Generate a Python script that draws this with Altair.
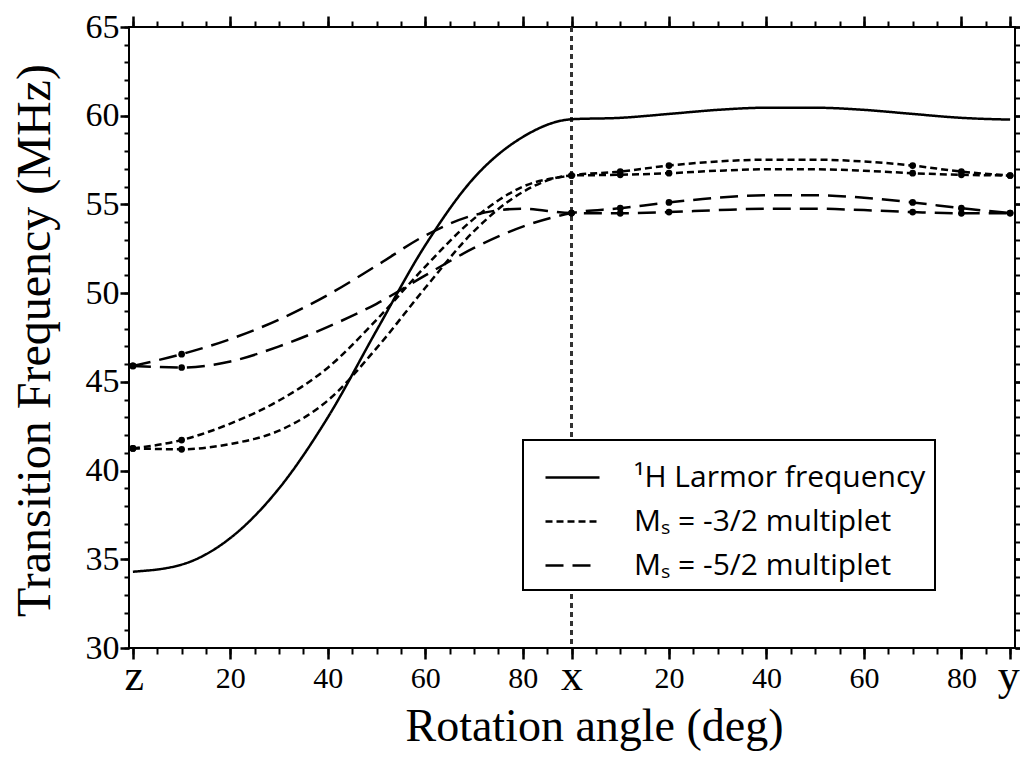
import altair as alt
import pandas as pd

# ---- data ----
angles = [0, 10, 20, 30, 40, 50, 60, 70, 80, 90, 100, 110, 120, 130, 140, 150, 160, 170, 180]

larmor = [34.3, 34.7, 36.2, 39.0, 43.0, 47.9, 52.7, 56.5, 58.8, 59.8,
          59.88, 60.1, 60.33, 60.45, 60.45, 60.33, 60.1, 59.88, 59.78]

ms32_a = [41.25, 41.72, 42.65, 43.95, 45.8, 48.5, 51.5, 54.2, 56.0, 56.63,
          56.85, 57.19, 57.42, 57.52, 57.52, 57.42, 57.19, 56.85, 56.63]
ms32_b = [41.25, 41.2, 41.5, 42.25, 43.95, 46.9, 50.3, 53.5, 55.7, 56.63,
          56.67, 56.76, 56.9, 56.98, 56.98, 56.9, 56.76, 56.67, 56.63]

ms52_a = [45.9, 46.56, 47.41, 48.51, 49.9, 51.55, 53.25, 54.4, 54.76, 54.51,
          54.5, 54.57, 54.68, 54.76, 54.76, 54.68, 54.57, 54.5, 54.51]
ms52_b = [45.9, 45.81, 46.15, 47.0, 48.1, 49.4, 51.0, 52.55, 53.75, 54.51,
          54.79, 55.11, 55.38, 55.52, 55.52, 55.38, 55.11, 54.79, 54.51]

marker_angles = [0, 10, 90, 100, 110, 160, 170, 180]

groups = ["\u00b9H Larmor frequency", "M\u209b = -3/2 multiplet", "M\u209b = -5/2 multiplet"]

curves = [
    ("larmor", groups[0], larmor),
    ("m32a", groups[1], ms32_a),
    ("m32b", groups[1], ms32_b),
    ("m52a", groups[2], ms52_a),
    ("m52b", groups[2], ms52_b),
]

major_x = [0, 20, 40, 60, 80, 90, 110, 130, 150, 170, 180]
minor_x = list(range(0, 181, 5))
axis_letters = [0, 90, 180]
major_y = list(range(30, 66, 5))
minor_y = list(range(30, 66, 1))

rows = []
for cid, grp, vals in curves:
    for a, v in zip(angles, vals):
        rows.append({"angle": a, "freq": v, "curve": cid, "group": grp})
df = pd.DataFrame(rows)
markers = df[(df["curve"] != "larmor") & (df["angle"].isin(marker_angles))]

xscale = alt.Scale(domain=[-0.8, 181], nice=False, zero=False)
yscale = alt.Scale(domain=[30, 65], nice=False, zero=False)

FONT = "Liberation Serif"

# ---- axes ----
ax_bottom_major = alt.Axis(
    orient="bottom", values=major_x, tickSize=11, tickWidth=2.5,
    labelExpr="(datum.value==0||datum.value==90||datum.value==180) ? '' : (datum.value>90 ? datum.value-90 : datum.value)",
    labelFontSize=30, labelPadding=4, labelOverlap=False, labelFlush=False,
    title="Rotation angle (deg)", titleFontSize=46, titleX=465, titleY=92,
    titleBaseline="alphabetic", titleAlign="center",
)
ax_bottom_minor = alt.Axis(orient="bottom", values=minor_x, tickSize=6, tickWidth=2,
                           labels=False, title=None)
ax_bottom_letters = alt.Axis(
    orient="bottom", values=axis_letters, ticks=False, labelFontSize=44,
    labelExpr="datum.value==0 ? 'z' : (datum.value==90 ? 'x' : 'y')",
    labelPadding=6, labelOverlap=False, labelFlush=12, labelFlushOffset=9, title=None,
)
ax_top_major = alt.Axis(orient="top", values=major_x, tickSize=11, tickWidth=2.5,
                        labels=False, title=None)
ax_top_minor = alt.Axis(orient="top", values=minor_x, tickSize=6, tickWidth=2,
                        labels=False, title=None)

ax_left_major = alt.Axis(
    orient="left", values=major_y, tickSize=9, tickWidth=2.5, labelFontSize=34,
    labelPadding=1, labelOverlap=False, labelFlush=False,
    title="Transition Frequency (MHz)", titleFontSize=48, titleX=-80, titleY=313,
    titleAngle=270, titleBaseline="alphabetic", titleAlign="center",
)
ax_left_minor = alt.Axis(orient="left", values=minor_y, tickSize=5, tickWidth=2,
                         labels=False, title=None)
ax_right_major = alt.Axis(orient="right", values=major_y, tickSize=9, tickWidth=2.5,
                          labels=False, title=None)
ax_right_minor = alt.Axis(orient="right", values=minor_y, tickSize=5, tickWidth=2,
                          labels=False, title=None)

legend = alt.Legend(
    orient="none", legendX=394, legendY=413, title=None,
    symbolType="stroke", symbolSize=2916, symbolStrokeWidth=2.5, symbolOffset=12,
    symbolStrokeColor="black", labelFont="Open Sans", labelFontSize=30,
    labelColor="black", labelOffset=33, rowPadding=-28, padding=9,
    strokeColor="black", fillColor="white", labelLimit=0,
)

lines = alt.Chart(df).mark_line(interpolate="monotone", color="black", strokeWidth=2.5).encode(
    x=alt.X("angle:Q", scale=xscale, axis=ax_bottom_major),
    y=alt.Y("freq:Q", scale=yscale, axis=ax_left_major),
    detail="curve:N",
    strokeDash=alt.StrokeDash("group:N", scale=alt.Scale(domain=groups, range=[[1, 0], [7, 4], [18, 9]]),
                              legend=legend),
)

points = alt.Chart(markers).mark_point(filled=True, shape="circle", size=45, color="black", opacity=1).encode(
    x=alt.X("angle:Q", scale=xscale, axis=ax_bottom_minor),
    y=alt.Y("freq:Q", scale=yscale, axis=ax_left_minor),
)

carrier1 = alt.Chart(df).mark_point(opacity=0).encode(
    x=alt.X("angle:Q", scale=xscale, axis=ax_bottom_letters),
    y=alt.Y("freq:Q", scale=yscale, axis=ax_right_major),
)
carrier2 = alt.Chart(df).mark_point(opacity=0).encode(
    x=alt.X("angle:Q", scale=xscale, axis=ax_top_major),
    y=alt.Y("freq:Q", scale=yscale, axis=ax_right_minor),
)
carrier3 = alt.Chart(df).mark_point(opacity=0).encode(
    x=alt.X("angle:Q", scale=xscale, axis=ax_top_minor),
    y=alt.Y("freq:Q", scale=yscale, axis=None),
)

vline = alt.Chart(df).mark_rule(color="#333333", strokeWidth=1.3, strokeDash=[5, 4]).encode(
    x=alt.XDatum(90, axis=None),
)

chart = alt.layer(vline, lines, points, carrier1, carrier2, carrier3).resolve_axis(
    x="independent", y="independent"
).properties(
    width=886, height=621,
    autosize=alt.AutoSizeParams(type="none"),
    padding={"left": 121, "top": 19, "right": 5, "bottom": 104},
).configure_view(
    stroke="black", strokeWidth=2
).configure_axis(
    domain=False, grid=False, tickColor="black", labelColor="black",
    labelFont=FONT, titleFont=FONT, titleColor="black", titleFontWeight="normal",
).configure_legend(
    strokeWidth=2
)

chart.save("out.html", embed_options={"renderer": "svg", "actions": False})
